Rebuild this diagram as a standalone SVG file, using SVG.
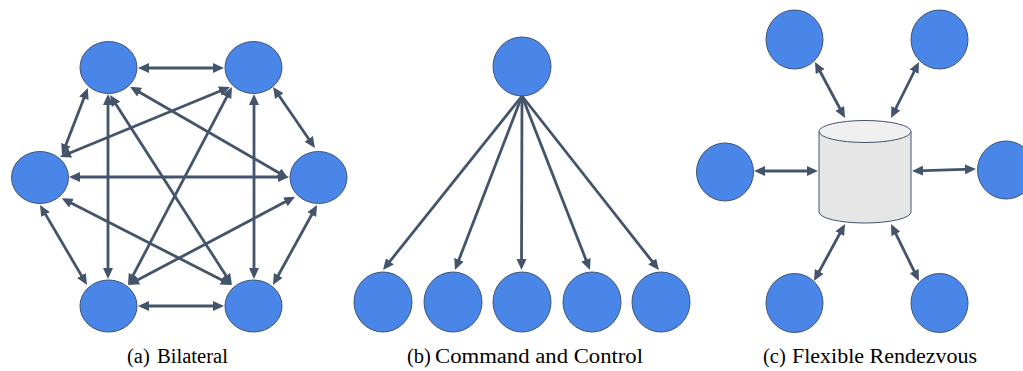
<svg xmlns="http://www.w3.org/2000/svg" width="1023" height="371" viewBox="0 0 1023 371">
<style>
.n{fill:#4A86E8;stroke:#3E5473;stroke-width:1}
.e{stroke:#44546A;stroke-width:2.8;fill:none}
.b{marker-start:url(#ah);marker-end:url(#ah)}
.s{marker-end:url(#ah)}
.lbl{font-family:"Liberation Serif","DejaVu Serif",serif;font-size:20.5px;fill:#000}
.cyl{fill:#E6E6E6;stroke:#44546A;stroke-width:1}
.cyltop{fill:#F0F0F0;stroke:#44546A;stroke-width:1}
</style>
<defs>
<marker id="ah" markerUnits="userSpaceOnUse" markerWidth="11" markerHeight="10" refX="7" refY="5" orient="auto-start-reverse" viewBox="0 0 11 10">
<path d="M0,0 L11,5 L0,10 z" fill="#44546A"/>
</marker>
</defs>
<rect width="1023" height="371" fill="#fff"/>
<g id="connectors">
<g id="a-edges">
<line class="e b" x1="142" y1="68" x2="220" y2="68"/>
<line class="e b" x1="142" y1="306" x2="220" y2="306"/>
<line class="e b" x1="86.4" y1="91.7" x2="63.4" y2="151.2"/>
<line class="e b" x1="275.3" y1="90.3" x2="312.7" y2="144.7"/>
<line class="e b" x1="42" y1="208.4" x2="85" y2="281.6"/>
<line class="e b" x1="315.1" y1="208.5" x2="274.9" y2="281.5"/>
<line class="e b" x1="108" y1="98" x2="108" y2="275"/>
<line class="e b" x1="254" y1="98" x2="254" y2="275"/>
<line class="e b" x1="73" y1="177" x2="285" y2="177"/>
<line class="e b" x1="112.2" y1="98.4" x2="229.8" y2="281.6"/>
<line class="e b" x1="230.1" y1="90.6" x2="129.9" y2="281.4"/>
<line class="e b" x1="63.7" y1="155.5" x2="226.3" y2="88.5"/>
<line class="e b" x1="133.5" y1="88.7" x2="284.8" y2="176.3"/>
<line class="e b" x1="65.3" y1="200.1" x2="228.1" y2="283.2"/>
<line class="e b" x1="131.8" y1="283.1" x2="291.5" y2="198.6"/>
</g>
<g id="b-edges">
<line class="e s" x1="522" y1="96" x2="385.5" y2="266.8"/>
<line class="e s" x1="522" y1="96" x2="456.4" y2="266.3"/>
<line class="e s" x1="522" y1="96" x2="521.5" y2="266"/>
<line class="e s" x1="522" y1="96" x2="588.5" y2="266.3"/>
<line class="e s" x1="522" y1="96" x2="656.5" y2="266.9"/>
</g>
<g id="c-edges">
<line class="e b" x1="816.9" y1="65.5" x2="843.1" y2="114.5"/>
<line class="e b" x1="917.2" y1="65.5" x2="892.8" y2="114.5"/>
<line class="e b" x1="758" y1="171" x2="814" y2="171"/>
<line class="e b" x1="916" y1="170.9" x2="972" y2="169.1"/>
<line class="e b" x1="843.1" y1="227.5" x2="815.9" y2="277.5"/>
<line class="e b" x1="892.8" y1="227.6" x2="917.2" y2="277.4"/>
</g>
</g>
<g id="a-tl"><ellipse class="n" cx="108.5" cy="67.5" rx="28.5" ry="26"/></g>
<g id="a-tr"><ellipse class="n" cx="253.5" cy="67.5" rx="28.5" ry="26"/></g>
<g id="a-l"><ellipse class="n" cx="40" cy="177.5" rx="28.5" ry="26"/></g>
<g id="a-r"><ellipse class="n" cx="318.5" cy="177.5" rx="28.5" ry="26"/></g>
<g id="a-bl"><ellipse class="n" cx="108.5" cy="306" rx="28.5" ry="26"/></g>
<g id="a-br"><ellipse class="n" cx="253.5" cy="306" rx="28.5" ry="26"/></g>
<g id="b-top"><ellipse class="n" cx="522" cy="66.5" rx="29" ry="29.5"/></g>
<g id="b-1"><ellipse class="n" cx="383" cy="302" rx="29" ry="30"/></g>
<g id="b-2"><ellipse class="n" cx="453" cy="302" rx="29" ry="30"/></g>
<g id="b-3"><ellipse class="n" cx="522" cy="302" rx="29" ry="30"/></g>
<g id="b-4"><ellipse class="n" cx="592" cy="302" rx="29" ry="30"/></g>
<g id="b-5"><ellipse class="n" cx="661" cy="302" rx="29" ry="30"/></g>
<g id="c-tl"><ellipse class="n" cx="794.5" cy="39.5" rx="28.5" ry="29.5"/></g>
<g id="c-tr"><ellipse class="n" cx="939.5" cy="39.5" rx="28.5" ry="29.5"/></g>
<g id="c-l"><ellipse class="n" cx="725" cy="172" rx="28.5" ry="29"/></g>
<g id="c-r"><ellipse class="n" cx="1006" cy="170" rx="28.5" ry="29"/></g>
<g id="c-bl"><ellipse class="n" cx="794.5" cy="303" rx="28.5" ry="29.5"/></g>
<g id="c-br"><ellipse class="n" cx="939.5" cy="303" rx="28.5" ry="29.5"/></g>
<g id="c-db">
<path class="cyl" d="M819,131.5 L819,212 A46,11 0 0 0 911,212 L911,131.5 Z"/>
<ellipse class="cyltop" cx="865" cy="131.5" rx="46" ry="11"/>
</g>
<g id="labels">
<text class="lbl" y="363"><tspan x="127">(a)</tspan><tspan x="157" textLength="71" lengthAdjust="spacingAndGlyphs">Bilateral</tspan></text>
<text class="lbl" y="363"><tspan x="407">(b)</tspan><tspan x="435" textLength="208" lengthAdjust="spacingAndGlyphs">Command and Control</tspan></text>
<text class="lbl" y="363"><tspan x="763">(c)</tspan><tspan x="792" textLength="185" lengthAdjust="spacingAndGlyphs">Flexible Rendezvous</tspan></text>
</g>
</svg>
